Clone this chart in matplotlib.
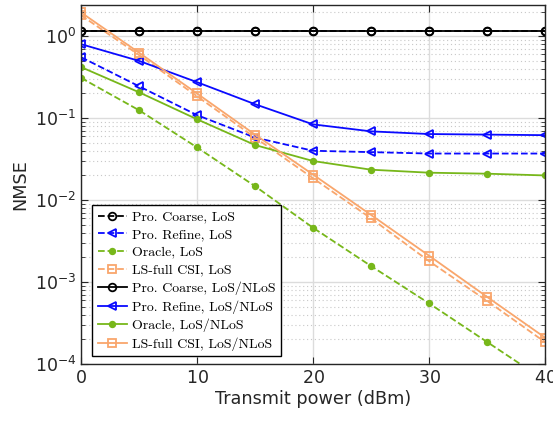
import matplotlib
matplotlib.use("Agg")
import matplotlib.pyplot as plt
import numpy as np

# transmit power (dBm)
power = [0, 5, 10, 15, 20, 25, 30, 35, 40]

# NMSE values
coarse_los = [1.15, 1.15, 1.15, 1.15, 1.15, 1.15, 1.15, 1.15, 1.15]
refine_los = [0.555, 0.245, 0.109, 0.058, 0.040, 0.0385, 0.037, 0.037, 0.037]
oracle_los = [0.31, 0.125, 0.044, 0.0148, 0.0046, 0.00157, 0.00055, 0.000186, 0.000063]
ls_los = [1.8, 0.59, 0.185, 0.058, 0.0185, 0.006, 0.0018, 0.00059, 0.000185]

coarse_nlos = [1.15, 1.15, 1.15, 1.15, 1.15, 1.15, 1.15, 1.15, 1.15]
refine_nlos = [0.80, 0.50, 0.275, 0.148, 0.084, 0.069, 0.064, 0.063, 0.062]
oracle_nlos = [0.42, 0.207, 0.097, 0.047, 0.030, 0.0235, 0.0216, 0.021, 0.020]
ls_nlos = [1.95, 0.63, 0.20, 0.063, 0.0205, 0.0066, 0.0021, 0.00066, 0.00021]

labels = ['Pro. Coarse, LoS', 'Pro. Refine, LoS', 'Oracle, LoS', 'LS-full CSI, LoS',
          'Pro. Coarse, LoS/NLoS', 'Pro. Refine, LoS/NLoS', 'Oracle, LoS/NLoS',
          'LS-full CSI, LoS/NLoS']

BLACK = '#000000'
BLUE = '#0a0aff'
GREEN = '#77b71a'
ORANGE = '#f9a66c'
GRAY = '#262626'

plt.rcParams['axes.edgecolor'] = GRAY
plt.rcParams['xtick.color'] = GRAY
plt.rcParams['ytick.color'] = GRAY
plt.rcParams['xtick.direction'] = 'in'
plt.rcParams['ytick.direction'] = 'in'
plt.rcParams['axes.formatter.use_mathtext'] = True

fig = plt.figure(figsize=(5.53, 4.21), dpi=100)
ax = fig.add_axes([0.1465, 0.1354, 0.839, 0.8526])

series = [
    (coarse_los, BLACK, 'o', '--', 'none'),
    (refine_los, BLUE, '<', '--', 'none'),
    (oracle_los, GREEN, '.', '--', GREEN),
    (ls_los, ORANGE, 's', '--', 'none'),
    (coarse_nlos, BLACK, 'o', '-', 'none'),
    (refine_nlos, BLUE, '<', '-', 'none'),
    (oracle_nlos, GREEN, '.', '-', GREEN),
    (ls_nlos, ORANGE, 's', '-', 'none'),
]

for (vals, col, mk, ls, mfc), lab in zip(series, labels):
    ms = {'.': 8, 'o': 5.5, '<': 6, 's': 5.5}[mk]
    ax.plot(power, vals, color=col, linestyle=ls, marker=mk, markersize=ms,
            markerfacecolor=mfc, markeredgewidth=1.3, linewidth=1.3, label=lab)

ax.set_yscale('log')
ax.set_xlim(0, 40)
ax.set_ylim(1e-4, 2.4)
ax.set_xticks([0, 10, 20, 30, 40])

ax.grid(True, which='major', color='#dcdcdc', linestyle='-', linewidth=1)
ax.grid(True, which='minor', axis='y', color='#c8c8c8', linestyle=(0, (1, 2.5)), linewidth=0.8)
ax.set_axisbelow(True)

ax.tick_params(which='both', top=True, right=True, labelsize=12.5, colors=GRAY)
ax.tick_params(which='major', length=5)
ax.tick_params(which='minor', length=3)
for sp in ax.spines.values():
    sp.set_linewidth(1.0)

ax.set_xlabel('Transmit power (dBm)', fontsize=12.7, color=GRAY, labelpad=2)
ax.set_ylabel('NMSE', fontsize=12.7, color=GRAY, labelpad=4)

leg = ax.legend(loc='lower left', bbox_to_anchor=(0.024, 0.022), borderaxespad=0,
                prop={'family': 'cmr10', 'size': 10}, frameon=True,
                fancybox=False, framealpha=1, edgecolor='#000000',
                labelspacing=0.36, handlelength=2.1, handletextpad=0.4,
                borderpad=0.4)
leg.get_frame().set_linewidth(1.0)

fig.savefig('out.png', dpi=100)
